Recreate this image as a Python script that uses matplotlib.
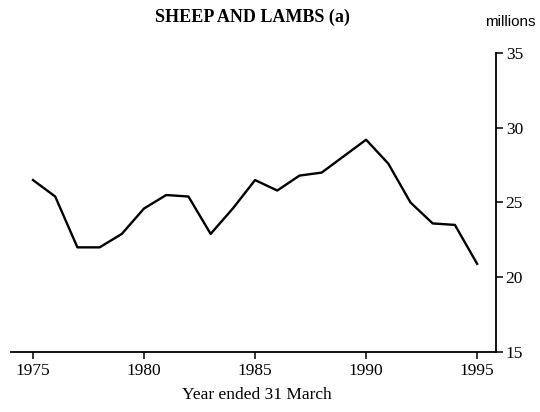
import matplotlib
matplotlib.use("Agg")
import matplotlib.pyplot as plt

# sheep and lambs, millions, year ended 31 March
years = list(range(1975, 1996))
sheep = [26.5, 25.4, 22.0, 22.0, 22.9, 24.6, 25.5, 25.4, 22.9, 24.6, 26.5,
         25.8, 26.8, 27.0, 28.1, 29.2, 27.6, 25.0, 23.6, 23.5, 20.9]
year_ticks = [1975, 1980, 1985, 1990, 1995]
value_ticks = [15, 20, 25, 30, 35]

plt.rcParams['font.family'] = ['Liberation Serif', 'DejaVu Serif']

fig = plt.figure(figsize=(5.4, 4.12), dpi=100)
ax = fig.add_axes([0.02, 0.1456, 0.8985, 0.7258])

ax.plot(years, sheep, color='black', linewidth=1.7)

ax.set_xlim(1974.0, 1995.85)
ax.set_ylim(15, 35)
ax.set_xticks(year_ticks)
ax.set_yticks(value_ticks)

# only bottom and right axis lines
ax.spines['top'].set_visible(False)
ax.spines['left'].set_visible(False)
ax.spines['bottom'].set_linewidth(1.3)
ax.spines['right'].set_linewidth(1.3)
ax.yaxis.tick_right()
ax.tick_params(axis='both', direction='out', length=5, width=1.1, labelsize=12.5, colors='black')
ax.tick_params(axis='y', pad=2)
ax.tick_params(axis='x', pad=3)

fig.text(252 / 540, 1 - 17 / 412, 'SHEEP AND LAMBS (a)', ha='center', va='center',
         fontsize=13, fontweight='bold')
fig.text(510 / 540, 1 - 22 / 412, 'millions', ha='center', va='center',
         fontsize=11, family=['Liberation Sans', 'DejaVu Sans'])
fig.text(257 / 540, 1 - 395 / 412, 'Year ended 31 March', ha='center', va='center',
         fontsize=12.5)

fig.savefig('out.png', dpi=100)
